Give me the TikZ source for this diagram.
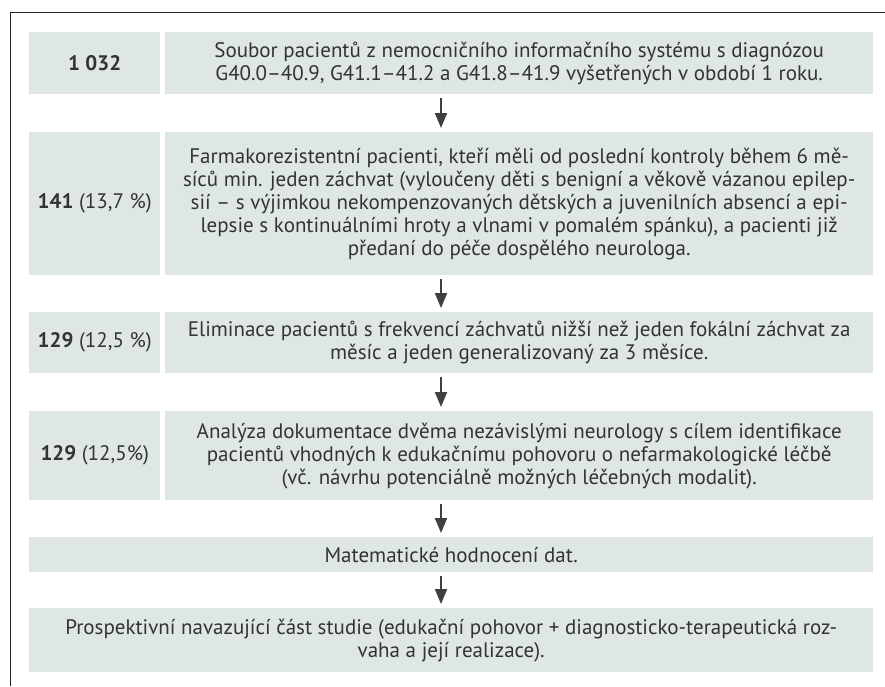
\documentclass[tikz,border=0pt]{standalone}
\usepackage{fontspec}
\setmainfont{PT Sans}
\usetikzlibrary{arrows.meta}
\definecolor{boxfill}{HTML}{DFE7E5}
\definecolor{inktext}{HTML}{333333}
\begin{document}
\begin{tikzpicture}[x=1pt,y=-1pt,
    box/.style={fill=boxfill, anchor=north west, inner sep=0pt, align=center, text=inktext, font=\fontsize{21}{23}\selectfont},
    numbox/.style={box, minimum width=131pt},
    txtbox/.style={box, minimum width=708pt},
    widebox/.style={box, minimum width=844pt},
    flow/.style={-{Triangle[length=15pt,width=12pt]}, line width=2pt, draw=black!75, fill=black, shorten <=4pt, shorten >=4pt}]
\useasboundingbox (0,0) rectangle (885,686);
% frame
\draw[line width=1pt, black!85] (885,12) -- (10,12) -- (10,686);

\node[numbox, minimum height=62pt] (n1) at (29,32) {\textbf{1 032}};
\node[txtbox, minimum height=62pt] (t1) at (165,32) {Soubor pacientů z nemocničního informačního systému s diagnózou\\ G40.0–40.9, G41.1–41.2 a G41.8–41.9 vyšetřených v období 1 roku.};

\node[numbox, minimum height=143pt] (n2) at (29,132) {\textbf{141} (13,7 \%)};
\node[txtbox, minimum height=143pt] (t2) at (165,132) {Farmakorezistentní pacienti, kteří měli od poslední kontroly během 6 mě-\\ síců min. jeden záchvat (vyloučeny děti s benigní a věkově vázanou epilep-\\ sií – s výjimkou nekompenzovaných dětských a juvenilních absencí a epi-\\ lepsie s kontinuálními hroty a vlnami v pomalém spánku), a pacienti již\\ předaní do péče dospělého neurologa.};

\node[numbox, minimum height=61pt] (n3) at (29,312) {\textbf{129} (12,5 \%)};
\node[txtbox, minimum height=61pt] (t3) at (165,312) {Eliminace pacientů s frekvencí záchvatů nižší než jeden fokální záchvat za\\ měsíc a jeden generalizovaný za 3 měsíce.};

\node[numbox, minimum height=89pt] (n4) at (29,411) {\textbf{129} (12,5\%)};
\node[txtbox, minimum height=89pt] (t4) at (165,411) {Analýza dokumentace dvěma nezávislými neurology s cílem identifikace\\ pacientů vhodných k edukačnímu pohovoru o nefarmakologické léčbě\\ (vč. návrhu potenciálně možných léčebných modalit).};

\node[widebox, minimum height=35pt] (t5) at (29,537) {Matematické hodnocení dat.};
\node[widebox, minimum height=64pt] (t6) at (29,608) {Prospektivní navazující část studie (edukační pohovor + diagnosticko-terapeutická roz-\\ vaha a její realizace).};

% arrows
\coordinate (ax) at (441,0);
\draw[flow] (t1.south -| ax) -- (t2.north -| ax);
\draw[flow] (t2.south -| ax) -- (t3.north -| ax);
\draw[flow] (t3.south -| ax) -- (t4.north -| ax);
\draw[flow] (t4.south -| ax) -- (t5.north -| ax);
\draw[flow] (t5.south -| ax) -- (t6.north -| ax);
\end{tikzpicture}
\end{document}
